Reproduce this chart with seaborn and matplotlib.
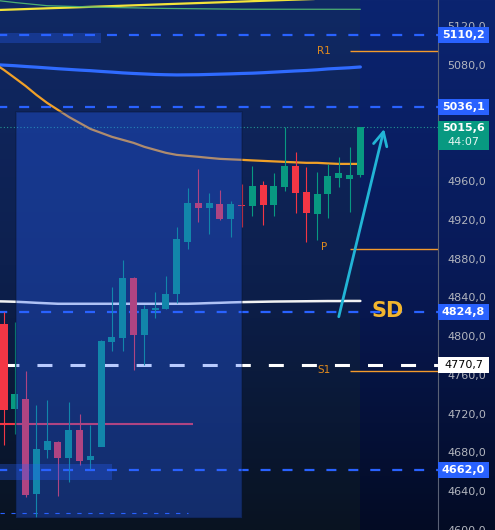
import matplotlib
matplotlib.use('Agg')
import matplotlib.pyplot as plt
import numpy as np
import seaborn as sns
from matplotlib.patches import Rectangle
from matplotlib.colors import LinearSegmentedColormap

sns.set_theme(style='dark')
plt.rcParams['font.family'] = ['DejaVu Sans']
plt.rcParams['lines.scale_dashes'] = False

# candles (bar index 0..33)
opens  = [4812.8, 4725.2, 4735.5, 4637.5, 4682.9, 4691.1, 4674.6, 4703.5, 4672.6, 4686.0,
          4794.2, 4798.4, 4860.2, 4801.4, 4827.2, 4828.2, 4843.7, 4897.3, 4937.5, 4932.4,
          4936.5, 4921.0, 4935.0, 4934.4, 4956.1, 4935.5, 4954.0, 4975.7, 4948.9, 4926.2,
          4946.8, 4963.3, 4962.3, 4966.4]
highs  = [4825.0, 4814.9, 4764.3, 4729.3, 4734.4, 4692.2, 4732.4, 4720.0, 4708.7, 4796.3,
          4851.0, 4878.8, 4861.2, 4832.4, 4845.8, 4862.3, 4912.8, 4953.0, 4972.6, 4947.8,
          4950.9, 4939.6, 4957.1, 4975.7, 4960.2, 4968.5, 5015.9, 4990.1, 4974.6, 4969.5,
          4977.7, 4985.0, 4995.3, 5015.6]
lows   = [4688.0, 4699.4, 4634.4, 4613.8, 4674.6, 4635.5, 4649.9, 4667.4, 4663.3, 4687.0,
          4785.0, 4785.0, 4765.4, 4770.5, 4819.0, 4828.0, 4834.4, 4890.0, 4917.9, 4905.6,
          4920.0, 4902.5, 4912.8, 4924.1, 4914.8, 4924.1, 4949.9, 4927.2, 4897.3, 4899.4,
          4922.1, 4954.0, 4928.2, 4964.3]
closes = [4724.0, 4740.6, 4636.5, 4683.9, 4692.2, 4674.6, 4703.5, 4671.6, 4676.7, 4795.3,
          4799.4, 4860.2, 4801.4, 4828.2, 4829.3, 4843.7, 4900.4, 4937.5, 4932.4, 4937.5,
          4921.0, 4936.5, 4934.5, 4955.0, 4935.5, 4955.0, 4975.7, 4947.8, 4927.2, 4946.8,
          4965.5, 4968.5, 4966.4, 5015.6]

# moving averages, bar index -1..33
ma_idx = list(range(-1, 34))
ema_orange = [5081.9, 5074.6, 5066.4, 5058.1, 5048.9, 5040.6, 5033.4, 5026.2, 5020.0, 5013.8,
              5009.7, 5005.6, 5002.5, 4999.4, 4995.3, 4992.2, 4989.1, 4987.0, 4986.0, 4985.0,
              4983.9, 4982.9, 4982.4, 4981.9, 4981.3, 4980.8, 4980.3, 4979.8, 4979.3, 4978.8,
              4978.8, 4978.2, 4977.7, 4977.7, 4977.7]
ma_blue = [5080.2, 5079.6, 5079.0, 5078.2, 5077.5, 5076.7, 5075.9, 5075.2, 5074.5, 5073.9,
           5073.1, 5072.4, 5071.6, 5071.0, 5070.5, 5070.0, 5069.7, 5069.5, 5069.6, 5069.7,
           5070.0, 5070.3, 5070.6, 5071.0, 5071.3, 5071.8, 5072.4, 5073.0, 5073.6, 5074.1,
           5074.8, 5075.7, 5076.3, 5076.9, 5077.7]
ma_white = [4836.0, 4835.8, 4835.5, 4835.0, 4834.4, 4833.9, 4833.4, 4833.4, 4833.4, 4833.4,
            4833.4, 4833.4, 4833.4, 4833.4, 4833.4, 4833.4, 4833.4, 4833.4, 4833.4, 4833.7,
            4834.1, 4834.4, 4834.8, 4835.1, 4835.3, 4835.5, 4835.7, 4835.8, 4835.9, 4836.0,
            4836.1, 4836.2, 4836.2, 4836.3, 4836.3]
yellow_idx = [-1, 5, 10, 15, 20, 26, 30]
yellow_val = [5136.3, 5138.6, 5140.5, 5142.5, 5144.4, 5146.8, 5148.3]
green_idx = [-1, 1, 4, 9, 15, 22, 33]
green_val = [5146.8, 5144.2, 5140.9, 5139.3, 5138.1, 5137.3, 5137.2]

# levels
blue_levels = [5110.2, 5036.1, 4824.8, 4662.0]
white_level = 4770.7
last_price = 5015.6
countdown = '44:07'
pivot_names = ['R1', 'P', 'S1']
pivot_vals = [5094.2, 4890.1, 4764.3]
pivot_label_y = [5094.2, 4892.2, 4765.4]
yticks = list(range(4600, 5121, 40))

def fmt(v):
    return f'{v:.1f}'.replace('.', ',')

fig = plt.figure(figsize=(4.95, 5.3), dpi=100)
bg = fig.add_axes([0, 0, 1, 1])
bg.axis('off')
cmap = LinearSegmentedColormap.from_list('bg', ['#0b2470', '#081a58', '#030b24'])
bg.imshow(np.linspace(0, 1, 256)[:, None], aspect='auto', cmap=cmap, extent=[0, 1, 0, 1])

ax = fig.add_axes([0, 0, 438 / 495, 1])
ax.set_facecolor('none')
xmin, xmax = -0.37, 40.19
ax.set_xlim(xmin, xmax)
ax.set_ylim(4600.4, 5146.8)

# session shade up to the last bar
ax.axvspan(xmin, 33, color='#324b14', alpha=0.13, lw=0, zorder=0.5)

# moving averages
sns.lineplot(x=yellow_idx, y=yellow_val, color='#f2e43a', lw=1.6, ax=ax, zorder=3)
sns.lineplot(x=green_idx, y=green_val, color='#4caf72', lw=0.9, ax=ax, zorder=3)
sns.lineplot(x=ma_idx, y=ma_blue, color='#2f6bff', lw=2.3, ax=ax, zorder=3)
sns.lineplot(x=ma_idx, y=ema_orange, color='#f0a028', lw=1.6, ax=ax, zorder=3)
sns.lineplot(x=ma_idx, y=ma_white, color='#f2f2f2', lw=1.8, ax=ax, zorder=3)

# levels
for v in blue_levels:
    ax.axhline(v, color='#2962ff', lw=1.6, linestyle=(2, (7.2, 8.6)), zorder=2)
ax.axhline(white_level, color='white', lw=2.2, linestyle=(21, (10.8, 13)), zorder=2)
ax.axhline(last_price, color='#26a69a', lw=0.8, linestyle=(0, (0.7, 1.7)), zorder=2)
ax.hlines(4709.7, xmin, 17.5, color='#f23645', lw=1.5, zorder=2)
ax.hlines(4617.9, xmin, 17.0, color='#2962ff', lw=0.8, linestyle=(0, (3.1, 4.8)), zorder=2)

for name, v, ly in zip(pivot_names, pivot_vals, pivot_label_y):
    ax.hlines(v, 32.04, xmax, color='#f49a2c', lw=1.0, zorder=2)
    ax.text(29.6, ly, name, color='#e08a1e', fontsize=7.5, ha='center', va='center', zorder=5)

# candles
x = np.arange(len(opens))
o, h, l, c = map(np.array, (opens, highs, lows, closes))
cols = np.where(c >= o, '#089981', '#f23645')
ax.vlines(x, l, h, colors=cols, lw=0.8, zorder=4)
body = np.maximum(np.abs(c - o), 1.0)
ax.bar(x, body, bottom=np.minimum(o, c), width=0.65, color=cols, lw=0, zorder=4)

# highlight boxes
ax.add_patch(Rectangle((1.11, 4612.8), 20.93, 418.5, fc='#2962ff', alpha=0.33,
                       ec='#081433', lw=1.2, zorder=6))
ax.add_patch(Rectangle((xmin, 5102.5), 9.35, 10.3, fc='#2962ff', alpha=0.3, lw=0, zorder=6))
ax.add_patch(Rectangle((xmin, 4652.0), 10.37, 16.5, fc='#2962ff', alpha=0.3, lw=0, zorder=6))

# arrow and SD note
ax.annotate('', xy=(35.2, 5013.8), xytext=(31.0, 4820.0),
            arrowprops=dict(arrowstyle='->,head_length=0.7,head_width=0.35', color='#22b5d6',
                            lw=2, mutation_scale=14, shrinkA=0, shrinkB=0), zorder=7)
ax.text(35.5, 4825.5, 'SD', color='#f2b52e', fontsize=15, fontweight='bold',
        family=['Liberation Sans Narrow', 'DejaVu Sans'], ha='center', va='center', zorder=7)

# price axis
ax.yaxis.tick_right()
ax.set_yticks(yticks)
ax.set_yticklabels([fmt(v) for v in yticks])
ax.tick_params(axis='y', length=0, pad=6.5, labelsize=8, labelcolor='#b2b5be')
ax.set_xticks([])
ax.grid(False)
for s in ['top', 'left', 'bottom']:
    ax.spines[s].set_visible(False)
ax.spines['right'].set_color('#5a6175')
ax.spines['right'].set_linewidth(0.8)

# price labels
tr = ax.get_yaxis_transform()
bw = 51 / 438
def price_tag(v, fc, tc, weight='bold', h=16.5):
    ax.add_patch(Rectangle((1.0, v - h / 2), bw, h, transform=tr, fc=fc, lw=0,
                           clip_on=False, zorder=10))
    ax.text(1.0 + bw / 2, v, fmt(v), transform=tr, color=tc, fontsize=8,
            fontweight=weight, ha='center', va='center', clip_on=False, zorder=11)

for v in blue_levels:
    price_tag(v, '#2962ff', 'white')
price_tag(white_level, 'white', 'black', weight='normal')

ax.add_patch(Rectangle((1.0, 4992.2), bw, 29.9, transform=tr, fc='#089981', lw=0,
                       clip_on=False, zorder=10))
ax.text(1.0 + bw / 2, 5014.7, fmt(last_price), transform=tr, color='white', fontsize=8,
        fontweight='bold', ha='center', va='center', clip_on=False, zorder=11)
ax.text(1.0 + bw / 2, 5000.4, countdown, transform=tr, color='#e6f5f2', fontsize=8,
        ha='center', va='center', clip_on=False, zorder=11)

fig.savefig('out.png', dpi=100)
